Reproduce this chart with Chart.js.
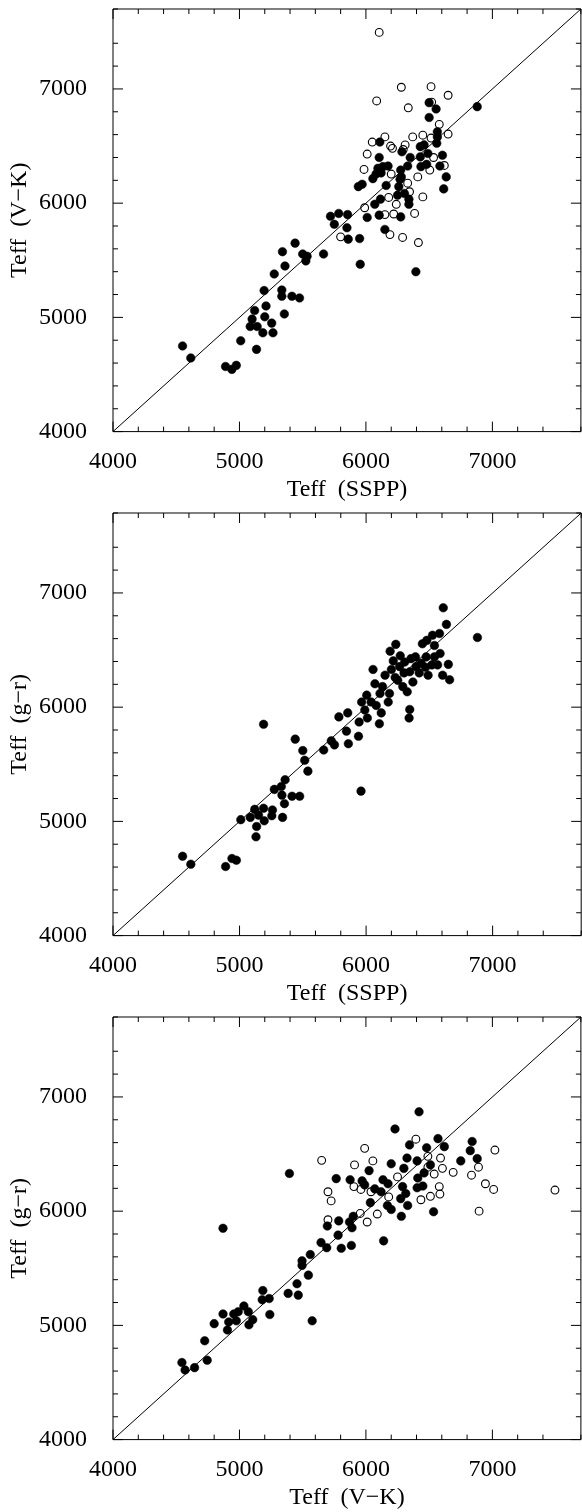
<!DOCTYPE html>
<html>
<head>
<meta charset="utf-8">
<script src="https://cdn.jsdelivr.net/npm/chart.js@4"></script>
<style>
  html, body { margin: 0; padding: 0; background: #fff; overflow: hidden; }
  body { width: 582px; height: 1512px; position: relative; }
  canvas { position: absolute; left: 0; }
</style>
</head>
<body>
<canvas id="c1" width="586" height="504" style="top:0px"></canvas>
<canvas id="c2" width="586" height="504" style="top:504px"></canvas>
<canvas id="c3" width="586" height="504" style="top:1008px"></canvas>
<script>
// axis range and labelled ticks
const axisMin = 4000;
const axisMax = 7700;
const tickLabels = [4000, 5000, 6000, 7000];

// panel 1: Teff (SSPP) vs Teff (V-K)
const vkFilled = [
  [4550,4750],[4615,4645],[4890,4570],[4940,4545],[4975,4580],[5010,4795],[5135,4720],[5120,5060],
  [5100,4985],[5085,4920],[5140,4920],[5185,4865],[5265,4865],[5255,4950],[5200,5005],[5210,5100],
  [5195,5235],[5355,5030],[5335,5240],[5335,5185],[5415,5185],[5475,5170],[5275,5380],[5360,5450],
  [5340,5575],[5440,5650],[5500,5555],[5535,5535],[5525,5495],[5665,5555],[5720,5885],[5785,5910],
  [5855,5900],[5750,5815],[5850,5785],[5860,5685],[5950,5690],[5955,5465],[6010,5875],[6070,5990],
  [5940,6145],[5970,6165],[6105,5895],[6115,6035],[6150,5770],[6275,5880],[6340,5990],[6340,6035],
  [6250,6070],[6260,6145],[6270,6210],[6275,6290],[6330,6325],[6395,5400],[6055,6215],[6095,6305],
  [6135,6320],[6175,6325],[6120,6265],[6080,6255],[6160,6155],[6105,6400],[6110,6535],[6285,6450],
  [6350,6400],[6430,6495],[6460,6510],[6490,6435],[6430,6405],[6435,6320],[6480,6340],[6565,6625],
  [6565,6580],[6560,6525],[6605,6420],[6585,6325],[6635,6230],[6615,6125],[6500,6880],[6555,6825],
  [6500,6750],[6880,6845],[6280,6230],[6305,6085]
];
const vkOpen = [
  [6105,7495],[6085,6895],[6280,7015],[6515,7020],[6650,6945],[6335,6835],[6520,6885],[6580,6690],
  [6650,6605],[6370,6580],[6450,6595],[6515,6570],[6150,6580],[6050,6535],[6195,6500],[6210,6480],
  [6310,6510],[6295,6470],[6010,6430],[5985,6295],[6200,6255],[6410,6230],[6505,6290],[6535,6400],
  [6620,6330],[6330,6175],[6345,6100],[6450,6055],[6180,6050],[6240,5990],[6220,5905],[6385,5910],
  [6150,5900],[5990,5960],[6190,5725],[6290,5700],[6415,5655],[5800,5705]
];

// panel 2: Teff (SSPP) vs Teff (g-r)
const grFilled = [
  [4550,4695],[4615,4625],[4890,4605],[4940,4675],[4975,4660],[5010,5015],[5130,4865],[5135,4955],
  [5085,5035],[5120,5105],[5190,5115],[5260,5100],[5255,5050],[5195,5005],[5150,5055],[5340,5035],
  [5190,5850],[5275,5280],[5330,5305],[5360,5365],[5335,5230],[5355,5155],[5415,5220],[5475,5220],
  [5440,5720],[5500,5620],[5515,5535],[5540,5440],[5665,5625],[5725,5705],[5750,5670],[5860,5680],
  [5845,5790],[5940,5745],[5960,5265],[5785,5915],[5855,5950],[5945,5870],[5965,6045],[5990,5975],
  [6010,5905],[6105,5855],[6005,6105],[6055,6330],[6070,6205],[6110,6120],[6040,6045],[6120,5950],
  [6080,6015],[6175,6045],[6185,6120],[6150,6280],[6190,6490],[6235,6550],[6215,6405],[6250,6235],
  [6290,6180],[6325,6135],[6345,5980],[6340,5905],[6265,6355],[6305,6395],[6355,6425],[6370,6220],
  [6345,6310],[6395,6355],[6435,6385],[6490,6280],[6475,6440],[6445,6555],[6480,6585],[6525,6630],
  [6580,6645],[6540,6540],[6585,6470],[6565,6370],[6650,6375],[6605,6280],[6660,6240],[6635,6725],
  [6610,6870],[6880,6610],[6540,6440],[6300,6300],[6420,6300],[6200,6330],[6130,6180],[6230,6260],
  [6470,6350],[6520,6370],[6390,6440],[6270,6450]
];

// panel 3: Teff (V-K) vs Teff (g-r)
const vkgrFilled = [
  [4545,4675],[4570,4610],[4645,4630],[4745,4695],[4725,4865],[4800,5015],[4870,5100],[4905,4960],
  [4915,5030],[4955,5100],[4990,5120],[5035,5170],[4975,5040],[5070,5120],[5075,5005],[5105,5050],
  [4870,5850],[5185,5305],[5180,5225],[5235,5235],[5240,5095],[5385,5280],[5455,5365],[5465,5265],
  [5545,5440],[5495,5565],[5495,5525],[5560,5620],[5575,5040],[5645,5725],[5690,5680],[5805,5675],
  [5885,5700],[5780,5790],[5695,5870],[5785,5915],[5870,5905],[5890,5855],[5900,5955],[6035,6075],
  [5765,6285],[5875,6275],[5970,6265],[5990,6230],[6025,6355],[6070,6195],[5395,6330],[6420,6870],
  [6230,6720],[6345,6580],[6480,6555],[6570,6635],[6620,6565],[6325,6465],[6405,6440],[6200,6415],
  [6510,6405],[6300,6375],[6460,6335],[6410,6290],[6135,6275],[6175,6240],[6120,6170],[6290,6215],
  [6315,6155],[6405,6205],[6450,6220],[6750,6440],[6840,6610],[6825,6530],[6880,6460],[6275,6110],
  [6330,6050],[6170,6050],[6200,6015],[6280,5955],[6535,5995],[6140,5740]
];
const vkgrOpen = [
  [5990,6550],[5650,6445],[5910,6405],[6055,6440],[5905,6215],[5960,6190],[5700,6170],[5725,6090],
  [5700,5925],[5955,5980],[6010,5905],[6090,5975],[6395,6630],[7020,6535],[6890,6385],[6835,6315],
  [6690,6340],[6605,6375],[6590,6465],[6490,6480],[6540,6325],[6945,6240],[7010,6190],[7495,6185],
  [6895,6000],[6580,6215],[6585,6150],[6510,6130],[6435,6100],[6250,6300],[6180,6125],[6040,6170],
  [6490,6385]
];

const oneToOne = [[axisMin, axisMin], [axisMax, axisMax]];

const serif = "'Liberation Serif', 'Times New Roman', Times, serif";

function toPts(arr) {
  return arr.map(p => ({x: p[0], y: p[1]}));
}

// box with inward ticks on all four sides
const boxTicks = {
  id: 'boxTicks',
  afterDraw(chart) {
    const {ctx, chartArea: a, scales} = chart;
    ctx.save();
    ctx.strokeStyle = '#000';
    ctx.lineWidth = 1;
    ctx.beginPath();
    ctx.rect(a.left, a.top, a.right - a.left, a.bottom - a.top);
    scales.x.ticks.forEach(t => {
      const px = scales.x.getPixelForValue(t.value);
      const len = t.value % 1000 === 0 ? 10 : 5;
      ctx.moveTo(px, a.bottom); ctx.lineTo(px, a.bottom - len);
      ctx.moveTo(px, a.top); ctx.lineTo(px, a.top + len);
    });
    scales.y.ticks.forEach(t => {
      const py = scales.y.getPixelForValue(t.value);
      const len = t.value % 1000 === 0 ? 10 : 5;
      ctx.moveTo(a.left, py); ctx.lineTo(a.left + len, py);
      ctx.moveTo(a.right, py); ctx.lineTo(a.right - len, py);
    });
    ctx.stroke();
    ctx.restore();
  }
};

function makePanel(id, filled, open, xTitle, yTitle) {
  const datasets = [{
    type: 'line',
    data: toPts(oneToOne),
    borderColor: '#000',
    borderWidth: 1,
    pointRadius: 0,
    order: 3
  }, {
    data: toPts(filled),
    backgroundColor: '#000',
    borderColor: '#000',
    borderWidth: 0.5,
    pointRadius: 4.3,
    order: 2
  }];
  if (open) {
    datasets.push({
      data: toPts(open),
      backgroundColor: 'rgba(0,0,0,0)',
      borderColor: '#000',
      borderWidth: 1.1,
      pointRadius: 3.9,
      order: 1
    });
  }
  const tickCfg = {
    stepSize: 200,
    autoSkip: false,
    maxRotation: 0,
    color: '#000',
    font: {family: serif, size: 24},
    callback: v => tickLabels.includes(v) ? String(v) : ''
  };
  new Chart(document.getElementById(id), {
    type: 'scatter',
    data: {datasets},
    options: {
      responsive: false,
      animation: false,
      devicePixelRatio: 1,
      layout: {padding: {top: 9, right: 2, left: 0, bottom: 0}},
      plugins: {legend: {display: false}, tooltip: {enabled: false}},
      scales: {
        x: {
          type: 'linear', min: axisMin, max: axisMax,
          grid: {display: false},
          border: {display: false},
          ticks: Object.assign({}, tickCfg, {padding: 8}),
          title: {display: true, text: xTitle, color: '#000',
                  font: {family: serif, size: 24}, padding: {top: 0, bottom: 0}},
          afterFit: s => { s.height = 72.4; s.paddingLeft = 0; s.paddingRight = 0; }
        },
        y: {
          type: 'linear', min: axisMin, max: axisMax,
          grid: {display: false},
          border: {display: false},
          ticks: Object.assign({}, tickCfg, {padding: 18}),
          title: {display: true, text: yTitle, color: '#000',
                  font: {family: serif, size: 24}, padding: {top: 5, bottom: 0}},
          afterFit: s => { s.width = 113; s.paddingTop = 0; s.paddingBottom = 0; }
        }
      }
    },
    plugins: [boxTicks]
  });
}

makePanel('c1', vkFilled, vkOpen, 'Teff  (SSPP)', 'Teff  (V\u2212K)');
makePanel('c2', grFilled, null, 'Teff  (SSPP)', 'Teff  (g\u2212r)');
makePanel('c3', vkgrFilled, vkgrOpen, 'Teff  (V\u2212K)', 'Teff  (g\u2212r)');
</script>
</body>
</html>
